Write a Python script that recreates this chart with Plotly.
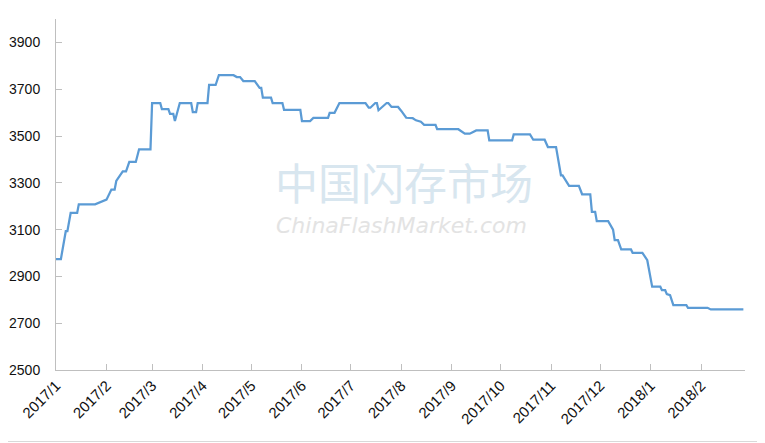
import plotly.graph_objects as go

dates = [
    "2017-01-01", "2017-01-04", "2017-01-07", "2017-01-08", "2017-01-10", "2017-01-14",
    "2017-01-15", "2017-01-25", "2017-02-01", "2017-02-04", "2017-02-06", "2017-02-07",
    "2017-02-11", "2017-02-13", "2017-02-15", "2017-02-19", "2017-02-21", "2017-02-28",
    "2017-03-01", "2017-03-06", "2017-03-07", "2017-03-11", "2017-03-12", "2017-03-14",
    "2017-03-15", "2017-03-18", "2017-03-25", "2017-03-26", "2017-03-28", "2017-03-29",
    "2017-04-04", "2017-04-05", "2017-04-09", "2017-04-11", "2017-04-20", "2017-04-22",
    "2017-04-24", "2017-04-26", "2017-05-03", "2017-05-06", "2017-05-07", "2017-05-08",
    "2017-05-13", "2017-05-14", "2017-05-20", "2017-05-21", "2017-05-31", "2017-06-01",
    "2017-06-06", "2017-06-08", "2017-06-17", "2017-06-18", "2017-06-21", "2017-06-24",
    "2017-07-10", "2017-07-12", "2017-07-13", "2017-07-16", "2017-07-17", "2017-07-18",
    "2017-07-23", "2017-07-24", "2017-07-26", "2017-07-30", "2017-08-01", "2017-08-04",
    "2017-08-08", "2017-08-10", "2017-08-13", "2017-08-15", "2017-08-22", "2017-08-23",
    "2017-09-05", "2017-09-09", "2017-09-12", "2017-09-16", "2017-09-23", "2017-09-24",
    "2017-10-08", "2017-10-09", "2017-10-19", "2017-10-21", "2017-10-28", "2017-10-30",
    "2017-11-04", "2017-11-06", "2017-11-07", "2017-11-08", "2017-11-12", "2017-11-18",
    "2017-11-20", "2017-11-25", "2017-11-26", "2017-11-28", "2017-11-29", "2017-12-06",
    "2017-12-08", "2017-12-09", "2017-12-10", "2017-12-12", "2017-12-14", "2017-12-20",
    "2017-12-21", "2017-12-27", "2017-12-30", "2017-12-31", "2018-01-02", "2018-01-07",
    "2018-01-08", "2018-01-10", "2018-01-11", "2018-01-13", "2018-01-15", "2018-01-23",
    "2018-01-24", "2018-02-05", "2018-02-07", "2018-02-27",
]
values = [
    2974, 2974, 3093, 3093, 3171, 3171,
    3208, 3208, 3228, 3271, 3271, 3308,
    3349, 3349, 3389, 3389, 3443, 3443,
    3641, 3641, 3615, 3615, 3595, 3595,
    3564, 3641, 3641, 3602, 3602, 3641,
    3641, 3718, 3718, 3760, 3760, 3752,
    3752, 3735, 3735, 3706, 3706, 3664,
    3664, 3641, 3641, 3612, 3612, 3564,
    3564, 3577, 3577, 3599, 3599, 3641,
    3641, 3621, 3621, 3641, 3641, 3610,
    3641, 3641, 3624, 3624, 3607, 3578,
    3576, 3567, 3561, 3548, 3548, 3529,
    3529, 3510, 3510, 3524, 3524, 3481,
    3481, 3507, 3507, 3484, 3484, 3453,
    3453, 3368, 3332, 3332, 3287, 3287,
    3251, 3251, 3176, 3176, 3136, 3136,
    3112, 3100, 3055, 3055, 3015, 3015,
    3001, 3001, 2969, 2934, 2856, 2856,
    2841, 2841, 2824, 2820, 2777, 2777,
    2766, 2766, 2759, 2759,
]

tick_dates = ["2017-01-01", "2017-02-01", "2017-03-01", "2017-04-01", "2017-05-01",
              "2017-06-01", "2017-07-01", "2017-08-01", "2017-09-01", "2017-10-01",
              "2017-11-01", "2017-12-01", "2018-01-01", "2018-02-01"]
tick_labels = ["2017/1", "2017/2", "2017/3", "2017/4", "2017/5", "2017/6", "2017/7",
               "2017/8", "2017/9", "2017/10", "2017/11", "2017/12", "2018/1", "2018/2"]
y_ticks = [2500, 2700, 2900, 3100, 3300, 3500, 3700, 3900]

# page body has an 8px margin: figure is drawn offset by (8, 8)
OFF = 8
W, H = 765 - OFF, 443 - OFF
ml, mr, mt, mb = 56 - OFF, 20, 19 - OFF, 73
pw, ph = W - ml - mr, H - mt - mb


def px_x(sx):
    return (sx - OFF - ml) / pw


def px_y(sy):
    return (H - mb - (sy - OFF)) / ph


fig = go.Figure()
fig.add_trace(go.Scatter(
    x=dates, y=values, mode="lines",
    line=dict(color="#5B9BD5", width=2.25),
    hoverinfo="x+y", showlegend=False,
))

x_font = dict(family="Liberation Sans, Arial, sans-serif", size=15, color="#111111")
y_font = dict(family="Liberation Sans, Arial, sans-serif", size=14, color="#111111")

fig.update_layout(
    width=W, height=H,
    margin=dict(l=ml, r=mr, t=mt, b=mb, pad=0),
    paper_bgcolor="white", plot_bgcolor="white",
    xaxis=dict(
        type="date", range=["2017-01-01", "2018-02-28"], automargin=False,
        tickmode="array", tickvals=tick_dates, ticktext=tick_labels,
        tickangle=-45, tickfont=x_font,
        showgrid=False, zeroline=False,
        showline=True, linecolor="#BFBFBF", linewidth=1,
        ticks="inside", ticklen=6, tickcolor="#BFBFBF",
    ),
    yaxis=dict(
        range=[2500, 4000], tickmode="array", tickvals=y_ticks, automargin=False,
        tickfont=y_font, showgrid=False, zeroline=False,
        showline=True, linecolor="#BFBFBF", linewidth=1,
        ticks="inside", ticklen=6, tickcolor="#BFBFBF",
        ticklabelstandoff=12,
    ),
    annotations=[
        dict(text="中国闪存市场", xref="paper", yref="paper",
             x=px_x(404), y=px_y(181), showarrow=False,
             font=dict(family="Noto Sans CJK SC", size=43, color="#D8E6EF"),
             xanchor="center", yanchor="middle"),
        dict(text="<i>ChinaFlashMarket.com</i>", xref="paper", yref="paper",
             x=px_x(401), y=px_y(225), showarrow=False,
             font=dict(family="DejaVu Sans, sans-serif", size=22, color="#E3E3E3"),
             xanchor="center", yanchor="middle"),
    ],
    shapes=[
        dict(type="rect", xref="paper", yref="paper",
             x0=px_x(1.5), x1=px_x(763.5),
             y0=px_y(441.5), y1=px_y(1.5),
             line=dict(color="#D9D9D9", width=1), fillcolor="rgba(0,0,0,0)",
             layer="below"),
    ],
)

fig.write_html("out.html")
